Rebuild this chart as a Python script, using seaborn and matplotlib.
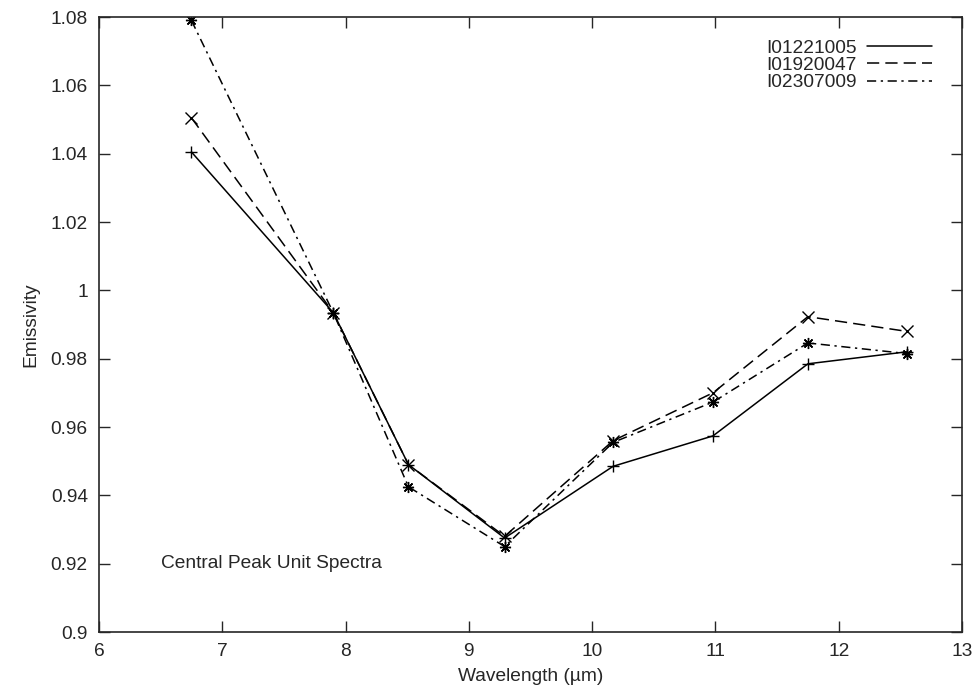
import matplotlib
matplotlib.use("Agg")
import matplotlib.pyplot as plt
import numpy as np
import pandas as pd
import seaborn as sns
from matplotlib.lines import Line2D

# band centres (um) and emissivity per spectrum
wavelength = [6.75, 7.9, 8.51, 9.29, 10.17, 10.98, 11.75, 12.55]
names = ["I01221005", "I01920047", "I02307009"]
emis_a = [1.0405, 0.9935, 0.949, 0.9275, 0.9485, 0.9574, 0.9785, 0.982]
emis_b = [1.0505, 0.9935, 0.949, 0.928, 0.956, 0.970, 0.9923, 0.988]
emis_c = [1.079, 0.9935, 0.9425, 0.925, 0.9555, 0.9673, 0.9846, 0.9815]

sns.set_style("ticks")
plt.rcParams["font.family"] = ["Liberation Sans", "DejaVu Sans"]

df = pd.DataFrame({
    "wl": wavelength * 3,
    "em": emis_a + emis_b + emis_c,
    "spec": np.repeat(names, len(wavelength)),
})

fig = plt.figure(figsize=(9.76, 6.92), dpi=100)
ax = fig.add_axes([0.1014, 0.0867, 0.8843, 0.8887])

mk = {names[0]: "+", names[1]: "x", names[2]: (8, 2, 0)}
msize = {names[0]: 9, names[1]: 9, names[2]: 8}
dash = {names[0]: None, names[1]: (8, 4), names[2]: (6, 3, 1.5, 3)}

for name in names:
    sub = df[df["spec"] == name]
    sns.lineplot(data=sub, x="wl", y="em", ax=ax, color="black", lw=1.1,
                 marker=mk[name], markersize=msize[name], markeredgewidth=1.0,
                 markeredgecolor="black", sort=False, legend=False)
    if dash[name] is not None:
        ax.get_lines()[-1].set_dashes(dash[name])

handles = [Line2D([], [], color="black", lw=1.1)]
handles += [Line2D([], [], color="black", lw=1.1, dashes=dash[n]) for n in names[1:]]
ax.legend(handles, names, loc="upper right", bbox_to_anchor=(0.985, 0.992),
          frameon=False, markerfirst=False, fontsize=13.8, handlelength=3.4,
          handletextpad=0.5, labelspacing=0.0)

ax.text(6.5, 0.92, "Central Peak Unit Spectra", fontsize=13.8, va="center", ha="left")

ax.set_xlim(6, 13)
ax.set_ylim(0.9, 1.08)
ax.set_xticks(range(6, 14))
ax.set_yticks([0.9, 0.92, 0.94, 0.96, 0.98, 1.0, 1.02, 1.04, 1.06, 1.08])
ax.set_yticklabels(["0.9", "0.92", "0.94", "0.96", "0.98", "1", "1.02", "1.04", "1.06", "1.08"])
ax.tick_params(direction="in", length=8, width=1, top=True, right=True,
               labelsize=13.8, pad=8)
for s in ax.spines.values():
    s.set_linewidth(1.2)
ax.set_xlabel("Wavelength (\u00b5m)", fontsize=13.8, labelpad=6)
ax.set_ylabel("Emissivity", fontsize=13.8, labelpad=8)

fig.savefig("out.png", dpi=100)
